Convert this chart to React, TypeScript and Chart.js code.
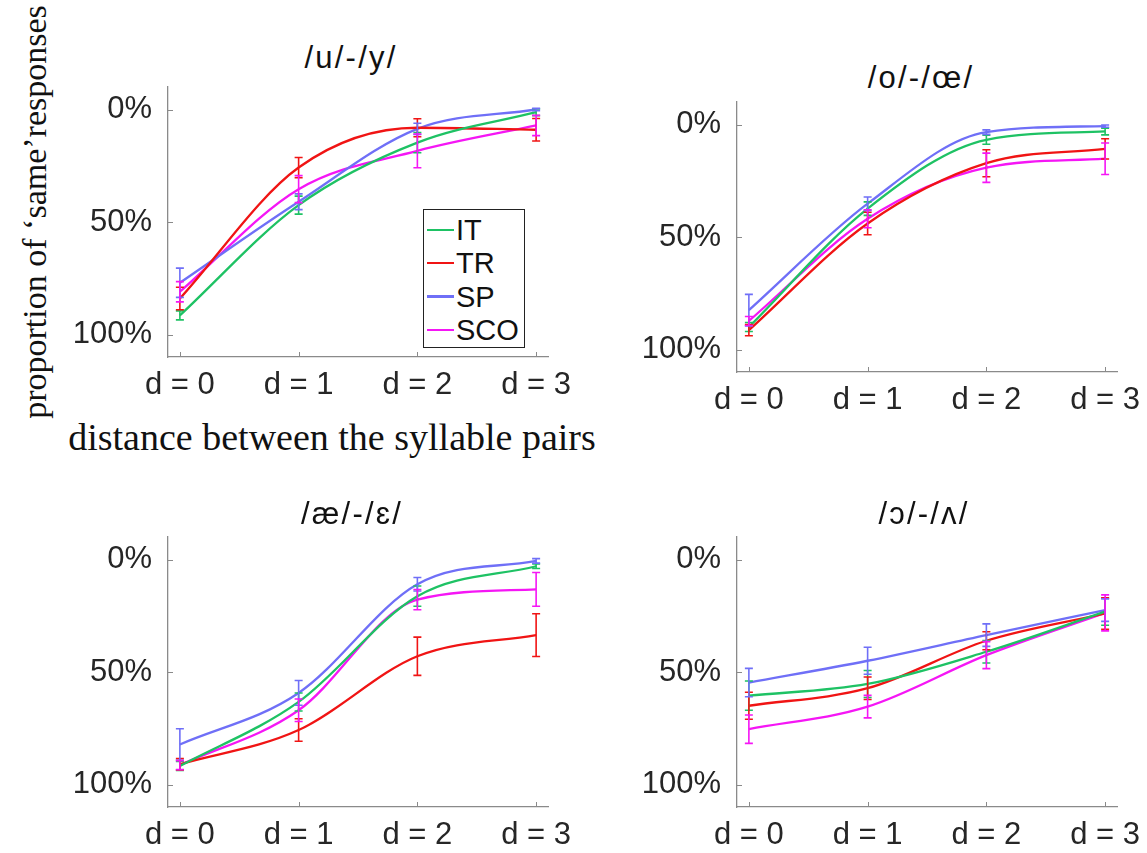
import React, { useEffect, useRef } from 'react';
import { Chart, registerables } from 'chart.js';

Chart.register(...registerables);

// ---------------- data ----------------
const distances = [0, 1, 2, 3];
const xTickLabels = ['d = 0', 'd = 1', 'd = 2', 'd = 3'];
const yTickValues = [0, 0.5, 1];
const groups = ['IT', 'TR', 'SP', 'SCO'];
const titles = ['/u/-/y/', '/o/-/œ/', '/æ/-/ɛ/', '/ɔ/-/ʌ/'];

// proportion of 'same' responses, rows = IT, TR, SP, SCO
const uyMeans = [
  [0.915, 0.425, 0.147, 0.012],
  [0.84, 0.258, 0.081, 0.09],
  [0.77, 0.41, 0.086, 0.0],
  [0.81, 0.354, 0.184, 0.071],
];
const uyErrors = [
  [0.02, 0.04, 0.045, 0.015],
  [0.05, 0.045, 0.04, 0.05],
  [0.065, 0.035, 0.025, 0.005],
  [0.045, 0.06, 0.075, 0.045],
];

const ooeMeans = [
  [0.9, 0.374, 0.068, 0.031],
  [0.914, 0.44, 0.172, 0.108],
  [0.825, 0.352, 0.034, 0.007],
  [0.873, 0.419, 0.192, 0.152],
];
const ooeErrors = [
  [0.02, 0.03, 0.02, 0.015],
  [0.025, 0.05, 0.06, 0.045],
  [0.07, 0.03, 0.01, 0.005],
  [0.02, 0.04, 0.065, 0.07],
];

const aeEpsMeans = [
  [0.918, 0.633, 0.163, 0.03],
  [0.91, 0.758, 0.43, 0.336],
  [0.822, 0.593, 0.11, 0.006],
  [0.914, 0.67, 0.178, 0.133],
];
const aeEpsErrors = [
  [0.02, 0.04, 0.045, 0.01],
  [0.025, 0.05, 0.085, 0.095],
  [0.07, 0.055, 0.03, 0.01],
  [0.02, 0.05, 0.045, 0.075],
];

const openOWedgeMeans = [
  [0.605, 0.553, 0.41, 0.232],
  [0.65, 0.572, 0.361, 0.24],
  [0.547, 0.45, 0.336, 0.225],
  [0.754, 0.654, 0.425, 0.237],
];
const openOWedgeErrors = [
  [0.065, 0.06, 0.05, 0.06],
  [0.06, 0.05, 0.04, 0.07],
  [0.063, 0.06, 0.05, 0.05],
  [0.063, 0.05, 0.06, 0.08],
];

const panelMeans = [uyMeans, ooeMeans, aeEpsMeans, openOWedgeMeans];
const panelErrors = [uyErrors, ooeErrors, aeEpsErrors, openOWedgeErrors];

// ---------------- styles ----------------
const groupColors = ['#1ec264', '#f01414', '#6f6ff7', '#f516f5'];
const AXIS_COLOR = '#8a8a8a';
const TEXT_COLOR = '#262626';
const SANS = '"Liberation Sans", Arial, Helvetica, sans-serif';
const SERIF = '"Liberation Serif", "Times New Roman", serif';

const CANVAS_W = 528;
const CANVAS_H = 331;
const Y_SCALE_W = 108;
const X_SCALE_H = 54;

const panelBoxes = [
  { left: 60, top: 80 },
  { left: 629, top: 95 },
  { left: 60, top: 530 },
  { left: 629, top: 530 },
];
const titleCenters = [
  { x: 351, y: 57 },
  { x: 921, y: 77 },
  { x: 352, y: 513 },
  { x: 924, y: 513 },
];

const decorPlugin = {
  id: 'decor',
  afterDatasetsDraw(chart: any) {
    const ctx = chart.ctx;
    const xs = chart.scales.x;
    const ys = chart.scales.y;
    const area = chart.chartArea;
    ctx.save();
    chart.data.datasets.forEach((ds: any) => {
      const errs: number[] = ds.errors || [];
      ds.data.forEach((p: any, i: number) => {
        const e = errs[i] || 0;
        const px = xs.getPixelForValue(p.x);
        const y1 = ys.getPixelForValue(p.y - e);
        const y2 = ys.getPixelForValue(p.y + e);
        ctx.strokeStyle = ds.borderColor;
        ctx.lineWidth = 1.6;
        ctx.beginPath();
        ctx.moveTo(px, y1);
        ctx.lineTo(px, y2);
        ctx.moveTo(px - 4, y1);
        ctx.lineTo(px + 4, y1);
        ctx.moveTo(px - 4, y2);
        ctx.lineTo(px + 4, y2);
        ctx.stroke();
      });
    });
    ctx.strokeStyle = AXIS_COLOR;
    ctx.lineWidth = 1;
    ys.ticks.forEach((t: any) => {
      const y = Math.round(ys.getPixelForValue(t.value)) + 0.5;
      ctx.beginPath();
      ctx.moveTo(area.left, y);
      ctx.lineTo(area.left + 5, y);
      ctx.stroke();
    });
    xs.ticks.forEach((t: any) => {
      const x = Math.round(xs.getPixelForValue(t.value)) + 0.5;
      ctx.beginPath();
      ctx.moveTo(x, area.bottom);
      ctx.lineTo(x, area.bottom - 5);
      ctx.stroke();
    });
    ctx.restore();
  },
};

function zeroPadding(scale: any) {
  scale.paddingTop = 0;
  scale.paddingBottom = 0;
  scale.paddingLeft = 0;
  scale.paddingRight = 0;
}

function Panel({ index }: { index: number }) {
  const ref = useRef<HTMLCanvasElement | null>(null);
  useEffect(() => {
    const canvas = ref.current;
    if (!canvas) return;
    const means = panelMeans[index];
    const errors = panelErrors[index];
    const datasets = groups.map((g, gi) => ({
      label: g,
      data: distances.map((d, i) => ({ x: d, y: means[gi][i] })),
      errors: errors[gi],
      borderColor: groupColors[gi],
      backgroundColor: groupColors[gi],
      borderWidth: 2.3,
      pointRadius: 0,
      cubicInterpolationMode: 'monotone' as const,
      fill: false,
    }));
    const chart = new Chart(canvas, {
      type: 'line',
      data: { datasets: datasets as any },
      plugins: [decorPlugin],
      options: {
        animation: false,
        responsive: false,
        devicePixelRatio: 1,
        layout: { padding: { top: 7, right: 40, left: 0, bottom: 0 } },
        plugins: {
          legend: { display: false },
          tooltip: { enabled: false },
          title: { display: false },
        },
        scales: {
          x: {
            type: 'linear',
            min: -0.1,
            max: 3.1,
            afterBuildTicks: (scale: any) => {
              scale.ticks = distances.map((v) => ({ value: v }));
            },
            afterFit: (scale: any) => {
              scale.height = X_SCALE_H;
              zeroPadding(scale);
            },
            grid: { display: false, drawTicks: false },
            border: { display: true, color: AXIS_COLOR, width: 1.3 },
            ticks: {
              autoSkip: false,
              maxRotation: 0,
              padding: 10,
              color: TEXT_COLOR,
              font: { family: SANS, size: 31 },
              callback: (_v: any, i: number) => xTickLabels[i],
            },
          },
          y: {
            type: 'linear',
            reverse: true,
            min: -0.1,
            max: 1.1,
            afterBuildTicks: (scale: any) => {
              scale.ticks = yTickValues.map((v) => ({ value: v }));
            },
            afterFit: (scale: any) => {
              scale.width = Y_SCALE_W;
              zeroPadding(scale);
            },
            grid: { display: false, drawTicks: false },
            border: { display: true, color: AXIS_COLOR, width: 1.3 },
            ticks: {
              autoSkip: false,
              padding: 16,
              color: TEXT_COLOR,
              font: { family: SANS, size: 31 },
              callback: (v: any) => `${Math.round(Number(v) * 100)}%`,
            },
          },
        },
      },
    });
    return () => chart.destroy();
  }, [index]);

  const box = panelBoxes[index];
  return (
    <canvas
      ref={ref}
      width={CANVAS_W}
      height={CANVAS_H}
      style={{ position: 'absolute', left: box.left, top: box.top, width: CANVAS_W, height: CANVAS_H }}
    />
  );
}

function Legend() {
  return (
    <div
      style={{
        position: 'absolute',
        left: 423,
        top: 209,
        width: 102,
        height: 139,
        border: '1.5px solid #222',
        background: '#fff',
        boxSizing: 'border-box',
      }}
    >
      {groups.map((g, i) => (
        <div
          key={g}
          style={{
            position: 'absolute',
            left: 3,
            top: 4 + i * 33.3,
            height: 32,
            display: 'flex',
            alignItems: 'center',
          }}
        >
          <div style={{ width: 27, height: 2.3, background: groupColors[i] }} />
          <span
            style={{
              marginLeft: 2,
              fontFamily: SANS,
              fontSize: 29,
              lineHeight: '32px',
              color: '#111',
            }}
          >
            {g}
          </span>
        </div>
      ))}
    </div>
  );
}

export default function App() {
  return (
    <div
      style={{
        position: 'absolute',
        left: 0,
        top: 0,
        width: 1147,
        height: 853,
        overflow: 'hidden',
        background: '#fff',
      }}
    >
      {[0, 1, 2, 3].map((i) => (
        <Panel key={i} index={i} />
      ))}
      {titles.map((t, i) => (
        <div
          key={t}
          style={{
            position: 'absolute',
            left: titleCenters[i].x,
            top: titleCenters[i].y,
            transform: 'translate(-50%, -50%)',
            fontFamily: SANS,
            fontSize: 31,
            lineHeight: 1,
            letterSpacing: 2.2,
            whiteSpace: 'nowrap',
            color: '#111',
          }}
        >
          {t}
        </div>
      ))}
      <Legend />
      <div
        style={{
          position: 'absolute',
          left: 35,
          top: 212,
          transform: 'translate(-50%, -50%) rotate(-90deg)',
          fontFamily: SERIF,
          fontSize: 34,
          lineHeight: 1,
          whiteSpace: 'nowrap',
          color: '#111',
        }}
      >
        proportion of ‘same’responses
      </div>
      <div
        style={{
          position: 'absolute',
          left: 332,
          top: 437,
          transform: 'translate(-50%, -50%)',
          fontFamily: SERIF,
          fontSize: 38,
          lineHeight: 1,
          whiteSpace: 'nowrap',
          color: '#111',
        }}
      >
        distance between the syllable pairs
      </div>
    </div>
  );
}
